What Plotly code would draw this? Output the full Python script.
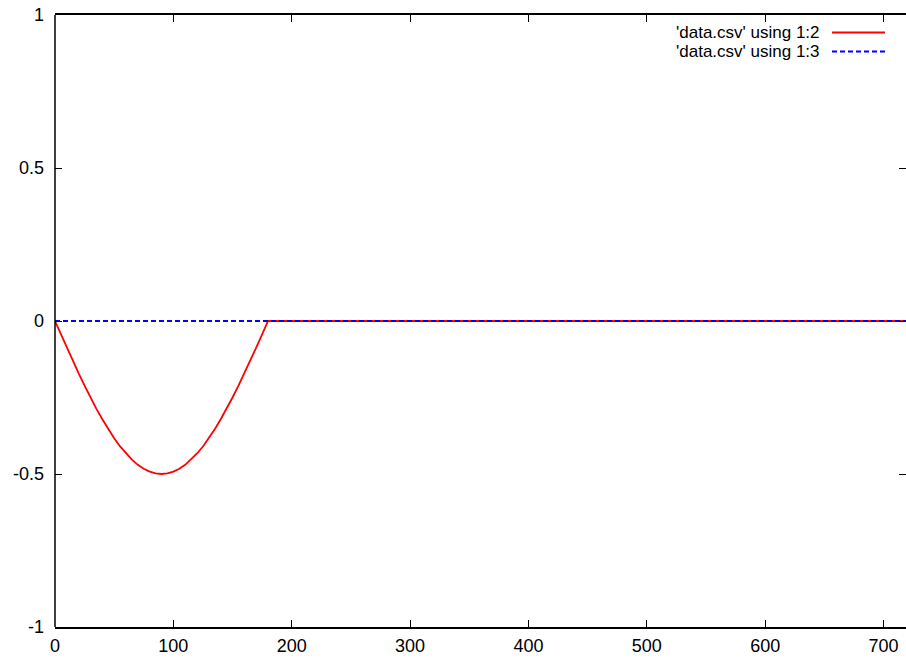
import plotly.graph_objects as go

# data
x_red = [0, 5, 10, 15, 20, 25, 30, 35, 40, 45, 50, 55, 60, 65, 70, 75, 80, 85, 90,
         95, 100, 105, 110, 115, 120, 125, 130, 135, 140, 145, 150, 155, 160, 165, 170, 175, 180, 720]
y_red = [0, -0.044, -0.087, -0.129, -0.171, -0.211, -0.25, -0.287, -0.321, -0.354,
         -0.383, -0.410, -0.433, -0.453, -0.470, -0.483, -0.492, -0.498, -0.5,
         -0.498, -0.492, -0.483, -0.470, -0.453, -0.433, -0.410, -0.383, -0.354,
         -0.321, -0.287, -0.25, -0.211, -0.171, -0.129, -0.087, -0.044, 0, 0]
x_blue = [0, 720]
y_blue = [0, 0]
x_ticks = [0, 100, 200, 300, 400, 500, 600, 700]
y_ticks = [-1, -0.5, 0, 0.5, 1]
y_tick_text = ["-1", "-0.5", "0", "0.5", "1"]
names = ["'data.csv' using 1:2", "'data.csv' using 1:3"]

W, H = 906, 658
L, R, T, B = 55, 0, 15, 31
FONT = "Liberation Sans, Arial, Helvetica, sans-serif"
FS = 18

fig = go.Figure()
fig.add_trace(go.Scatter(x=x_red, y=y_red, mode="lines", name=names[0],
                         line=dict(color="#ff0000", width=1.8)))
fig.add_trace(go.Scatter(x=x_blue, y=y_blue, mode="lines", name=names[1],
                         line=dict(color="#0000ff", width=1.8, dash="5px,3px")))

def px2paper_x(px):
    return (px - L) / (W - L - R)

def px2paper_y(py):
    return 1 - (py - T) / (H - T - B)

shapes = [
    dict(type="line", xref="paper", yref="paper", x0=0, x1=0, y0=0, y1=1,
         line=dict(color="black", width=1.5)),
]
annotations = []
legend_rows = [(32.5, "#ff0000", "solid"), (51.5, "#0000ff", "5px,3px")]
for (py, col, dash), nm in zip(legend_rows, names):
    annotations.append(dict(xref="paper", yref="paper", x=px2paper_x(821), y=px2paper_y(py),
                            xanchor="right", yanchor="middle", text=nm, showarrow=False,
                            borderpad=0,
                            font=dict(family=FONT, size=17, color="black")))
    shapes.append(dict(type="line", xref="paper", yref="paper",
                       x0=px2paper_x(832), x1=px2paper_x(885),
                       y0=px2paper_y(py), y1=px2paper_y(py),
                       line=dict(color=col, width=1.8, dash=dash)))

fig.update_layout(
    width=W, height=H,
    margin=dict(l=L, r=R, t=T, b=B, pad=0),
    paper_bgcolor="white", plot_bgcolor="white",
    showlegend=False,
    font=dict(family=FONT, size=FS, color="black"),
    shapes=shapes, annotations=annotations,
    xaxis=dict(range=[0, 719], tickvals=x_ticks, ticks="inside", ticklen=7, tickwidth=1,
               tickcolor="black", showline=True, linecolor="black", linewidth=1.5,
               mirror="ticks", showgrid=False, zeroline=False, ticklabelstandoff=2),
    yaxis=dict(range=[-1, 1], tickvals=y_ticks, ticktext=y_tick_text, ticks="inside",
               ticklen=7, tickwidth=1, tickcolor="black", showline=False,
               showgrid=False, zeroline=False, ticklabelstandoff=10),
    yaxis2=dict(range=[-1, 1], tickvals=y_ticks, ticks="inside", ticklen=7, tickwidth=1,
                tickcolor="black", showline=False, showgrid=False, zeroline=False,
                showticklabels=False, overlaying="y", side="right", anchor="x"),
)
# invisible helper trace so the right-hand tick axis is rendered
fig.add_trace(go.Scatter(x=x_blue, y=y_blue, yaxis="y2", mode="lines",
                         line=dict(width=0), hoverinfo="skip", showlegend=False))

fig.write_html("out.html", config={"displayModeBar": False},
               post_script="document.body.style.margin='0';document.body.style.overflow='hidden';")
